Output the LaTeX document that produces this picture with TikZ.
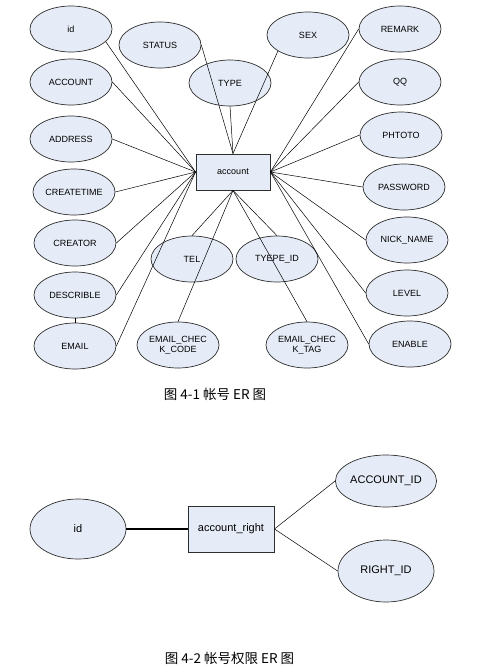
\documentclass[tikz,border=0pt]{standalone}
\usepackage{fontspec}
\setmainfont{Liberation Sans}
\newfontfamily\cjk{Noto Sans CJK SC}
\usetikzlibrary{shapes.geometric}
\definecolor{efill}{HTML}{E6ECF7}
\definecolor{eline}{HTML}{2E2E2E}
\begin{document}
\begin{tikzpicture}[x=1pt,y=-1pt,
  attr/.style={ellipse, draw=eline, fill=efill, line width=0.7pt, minimum width=82pt, minimum height=46pt, inner sep=0pt, font=\fontsize{9}{9.5}\selectfont, align=center},
  bigattr/.style={attr, minimum width=96pt, font=\fontsize{11}{13}\selectfont},
  ent/.style={rectangle, draw=eline, fill=efill, line width=0.9pt, inner sep=0pt, font=\fontsize{9}{10}\selectfont},
  conn/.style={draw=black, line width=0.5pt},
  captext/.style={font=\cjk\fontsize{13.5}{16}\selectfont}]
\useasboundingbox[fill=white] (0,0) rectangle (485,670);

% ---- figure 4-1 ----
\node[ent, minimum width=74pt, minimum height=36pt] (acc) at (233,172) {account};

\node[attr] (id) at (71,29) {id};
\node[attr] (status) at (160,45) {STATUS};
\node[attr] (type) at (230,83) {TYPE};
\node[attr] (account) at (71,82) {ACCOUNT};
\node[attr] (address) at (71,139) {ADDRESS};
\node[attr] (createtime) at (74,192) {CREATETIME};
\node[attr] (creator) at (75,243) {CREATOR};
\node[attr] (describle) at (75,295) {DESCRIBLE};
\node[attr] (email) at (75,346) {EMAIL};
\node[attr] (tel) at (192,259) {TEL};
\node[attr] (ecc) at (178,345) {EMAIL\_CHEC\\K\_CODE};
\node[attr] (typeid) at (277,259) {TYEPE\_ID};
\node[attr] (ect) at (307,345) {EMAIL\_CHEC\\K\_TAG};
\node[attr] (sex) at (308,35) {SEX};
\node[attr] (remark) at (400,29) {REMARK};
\node[attr] (qq) at (400,82) {QQ};
\node[attr] (phtoto) at (401,135) {PHTOTO};
\node[attr] (password) at (404,187) {PASSWORD};
\node[attr] (nick) at (407,240) {NICK\_NAME};
\node[attr] (level) at (407,293) {LEVEL};
\node[attr] (enable) at (410,344) {ENABLE};

% left side
\draw[conn] (id.-20) -- (acc.west);
\draw[conn] (account.east) -- (acc.west);
\draw[conn] (address.east) -- (acc.west);
\draw[conn] (createtime.east) -- (acc.west);
\draw[conn] (creator.east) -- (acc.west);
\draw[conn] (describle.east) -- (acc.west);
\draw[conn] (email.east) -- (acc.west);
\draw[conn] (describle.south) -- (email.north);
% top
\draw[conn] (status.east) -- (acc.north);
\draw[conn] (type.south) -- (acc.north);
\draw[conn] (sex.-152) -- (acc.north);
% right side
\draw[conn] (remark.west) -- (acc.east);
\draw[conn] (qq.west) -- (acc.east);
\draw[conn] (phtoto.west) -- (acc.east);
\draw[conn] (password.west) -- (acc.east);
\draw[conn] (nick.west) -- (acc.east);
\draw[conn] (level.west) -- (acc.east);
\draw[conn] (enable.west) -- (acc.east);
% bottom
\draw[conn] (tel.north) -- (acc.south);
\draw[conn] (ecc.north) -- (acc.south);
\draw[conn] (typeid.north) -- (acc.south);
\draw[conn] (ect.north) -- (acc.south);

\node[captext] (cap1) at (215,394) {图 4-1 帐号 ER 图};

% ---- figure 4-2 ----
\node[ent, minimum width=86pt, minimum height=46pt, font=\fontsize{11}{13}\selectfont] (ar) at (231,529) {account\_right};
\node[bigattr, minimum height=60pt] (id2) at (78,529) {id};
\node[bigattr, minimum height=52pt] (accid) at (386,481) {ACCOUNT\_ID};
\node[bigattr, minimum height=62pt] (rightid) at (386,571) {RIGHT\_ID};
\draw[conn, line width=1.2pt] (id2.east) -- (ar.west);
\draw[conn] (ar.east) -- (accid.west);
\draw[conn] (ar.east) -- (rightid.west);

\node[captext] (cap2) at (229.5,658) {图 4-2 帐号权限 ER 图};
\end{tikzpicture}
\end{document}
